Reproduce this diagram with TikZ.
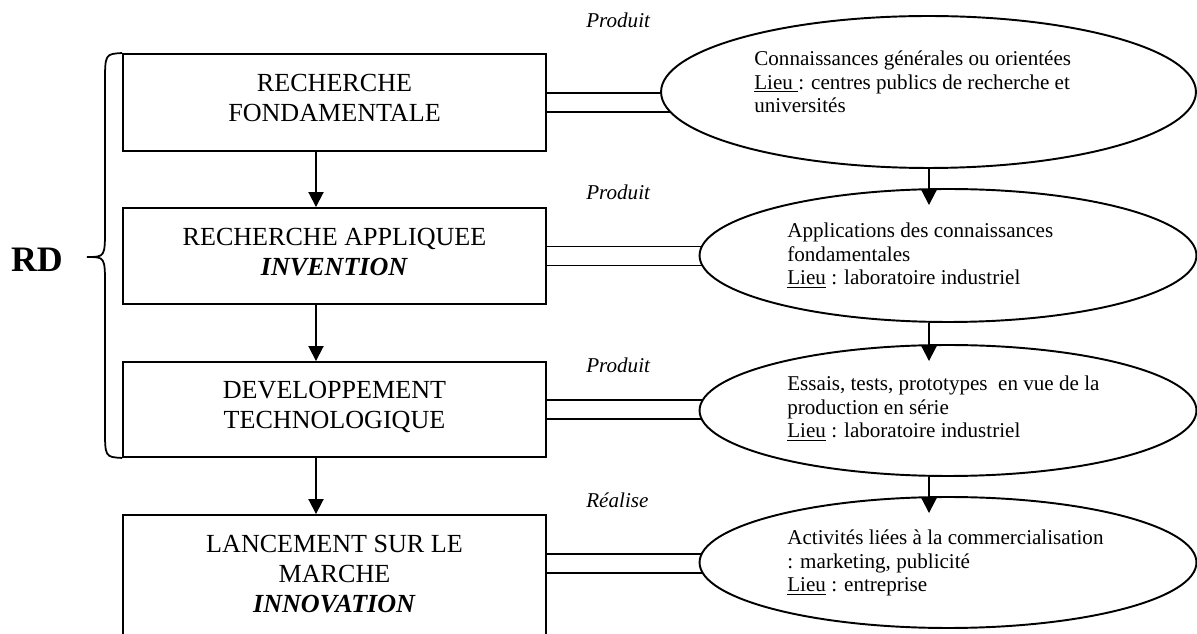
\documentclass[tikz,border=0pt]{standalone}
\usepackage{fontspec}
\setmainfont{Liberation Serif}
\usepackage{tikz}
\usetikzlibrary{arrows.meta}
\usetikzlibrary{shapes.geometric}
\usetikzlibrary{calc}
\usetikzlibrary{backgrounds}
\tikzset{
etape/.style={draw, line width=1.1pt, minimum width=8.46cm, align=center, inner sep=0pt,
  font=\fontsize{14.85}{17}\selectfont, execute at end node=\strut},
bulle/.style={draw, ellipse, line width=1.1pt, fill=white, inner sep=0pt},
contenu/.style={anchor=base west, align=left, inner sep=0pt, font=\fontsize{12}{13.6}\selectfont},
verbe/.style={anchor=base west, inner sep=0pt, font=\fontsize{12}{13.6}\selectfont\itshape},
fleche/.style={line width=1.1pt, -{Triangle[length=0.3cm,width=0.3cm]}},
lien/.style={double, double distance=0.341cm, line width=1.1pt}
}
\begin{document}
\begin{tikzpicture}[x=0.02cm, y=-0.02cm]

                \useasboundingbox (0,0) rectangle (1197,634);
                \clip (0,0) rectangle (1197,634);

                \node[etape, minimum height=1.94cm] (b1) at (334.5,102.5) {RECHERCHE\\FONDAMENTALE};
                \node[etape, minimum height=1.92cm] (b2) at (334.5,256) {RECHERCHE APPLIQUEE\\\textbf{\textit{INVENTION}}};
                \node[etape, minimum height=1.9cm] (b3) at (334.5,409.5) {DEVELOPPEMENT\\TECHNOLOGIQUE};
                \node[etape, minimum height=2.52cm] (b4) at (334.5,578) {LANCEMENT SUR LE\\MARCHE\\\textbf{\textit{INNOVATION}}};

                \node[bulle, minimum width=10.7cm, minimum height=3.04cm] (e1) at (928.5,92) {};
                \node[bulle, minimum width=9.94cm, minimum height=2.66cm] (e2) at (948,255.5) {};
                \node[bulle, minimum width=9.94cm, minimum height=2.62cm] (e3) at (948,410.5) {};
                \node[bulle, minimum width=9.94cm, minimum height=2.62cm] (e4) at (948,562.5) {};

                \node[contenu] (t1) at (754,113) {Connaissances générales ou orientées\\\underline{Lieu }: centres publics de recherche et\\universités};
                \node[contenu] (t2) at (787,285) {Applications des connaissances\\fondamentales\\\underline{Lieu} : laboratoire industriel};
                \node[contenu] (t3) at (787,438) {Essais, tests, prototypes\ \ en vue de la\\production en série\\\underline{Lieu} : laboratoire industriel};
                \node[contenu] (t4) at (787,592) {Activités liées à la commercialisation\\: marketing, publicité\\\underline{Lieu} : entreprise};

                \node[verbe] (v1) at (586,28) {Produit};
                \node[verbe] (v2) at (586,200) {Produit};
                \node[verbe] (v3) at (586,373) {Produit};
                \node[verbe] (v4) at (586,508) {Réalise};

                \node[font=\fontsize{20.4}{24}\selectfont\bfseries] (rd) at (37,260) {RD};

                \draw[line width=1pt] (b1.north west) .. controls (105,54) .. (105,84) -- (105,228)
                        .. controls (105,257) .. (87,257) .. controls (105,257) .. (105,286)
                        -- (105,428) .. controls (105,457) .. (b3.south west);

                \begin{scope}[on background layer]
                \draw[lien] (b1.east) -- (b1.east -| e1.center);
                \draw[lien] (b2.east) -- (b2.east -| e2.center);
                \draw[lien] (b3.east) -- (b3.east -| e3.center);
                \draw[lien] ($(b4.east)+(0,-14.5)$) -- ($(b4.east -| e4.center)+(0,-14.5)$);
                \end{scope}

                \coordinate (axe) at (316,0);
                \coordinate (axe2) at (929,0);
                \foreach \a/\b in {b1/b2, b2/b3, b3/b4}
                        \draw[fleche] (axe |- \a.south) -- (axe |- \b.north);
                \foreach \a/\b in {e1/e2, e2/e3, e3/e4}
                        \draw[fleche] (axe2 |- \a.south) -- ($(axe2 |- \b.north)+(0,17)$);

            \end{tikzpicture}
\end{document}
